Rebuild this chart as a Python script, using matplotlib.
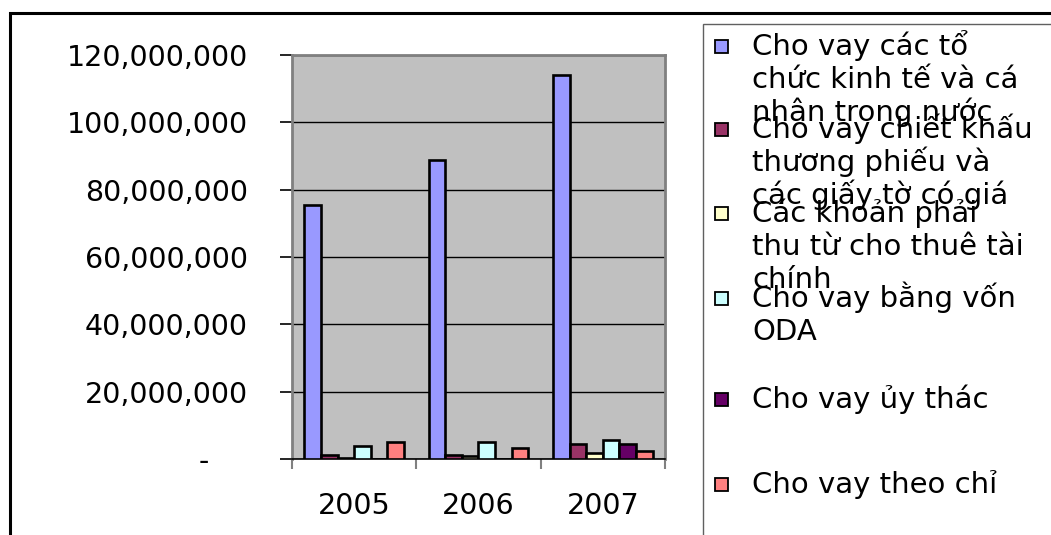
import matplotlib
matplotlib.use('Agg')
import matplotlib.pyplot as plt
import numpy as np
from matplotlib.patches import Rectangle
from matplotlib.transforms import ScaledTranslation
from matplotlib.ticker import FuncFormatter

W, H = 1051, 535

years = ['2005', '2006', '2007']
series_names = [
    'Cho vay các tổ\nchức kinh tế và cá\nnhân trong nước',
    'Cho vay chiết khấu\nthương phiếu và\ncác giấy tờ có giá',
    'Các khoản phải\nthu từ cho thuê tài\nchính',
    'Cho vay bằng vốn\nODA',
    'Cho vay ủy thác',
    'Cho vay theo chỉ',
]
to_chuc_ca_nhan = [75.4e6, 88.8e6, 114.0e6]
chiet_khau = [1.2e6, 1.2e6, 4.45e6]
thue_tai_chinh = [0.3e6, 0.9e6, 1.7e6]
von_oda = [3.95e6, 5.05e6, 5.55e6]
uy_thac = [0, 0, 4.45e6]
chi_dinh = [5.05e6, 3.3e6, 2.3e6]
series = [to_chuc_ca_nhan, chiet_khau, thue_tai_chinh, von_oda, uy_thac, chi_dinh]
colors = ['#9999FF', '#993366', '#FFFFCC', '#CCFFFF', '#660066', '#FF8080']

yticks = [0, 20e6, 40e6, 60e6, 80e6, 100e6, 120e6]


def px(x, y):
    # pixel position (from top-left) -> figure fraction
    return x / W, 1 - y / H


fig = plt.figure(figsize=(W / 100, H / 100), dpi=100)
left, top = px(292, 55)
right, bottom = px(665, 459)
ax = fig.add_axes([left, bottom, right - left, top - bottom])
ax.set_facecolor('#C0C0C0')

n = len(series)
w = 1 / (n + 1.5)
x = np.arange(len(years))
for j, (vals, c) in enumerate(zip(series, colors)):
    pos = x - 0.5 + 0.75 * w + (j + 0.5) * w
    ax.bar(pos, vals, width=w, color=c, edgecolor='black', linewidth=1.9, zorder=3)

ax.set_xlim(-0.5, len(years) - 0.5)
ax.set_ylim(0, 120e6)
ax.set_yticks(yticks)
ax.yaxis.set_major_formatter(FuncFormatter(lambda v, p: '-' if v == 0 else f'{int(v):,}'))
ax.grid(axis='y', color='black', linewidth=1)
ax.set_axisbelow(True)

ax.set_xticks(x)
ax.set_xticklabels(years)
ax.set_xticks(np.arange(len(years) + 1) - 0.5, minor=True)
ax.tick_params(axis='x', which='major', length=0, pad=24, labelsize=20.5)
ax.tick_params(axis='x', which='minor', length=7.5, width=1.5, color='#808080', direction='out')
ax.tick_params(axis='y', length=8.6, width=1.2, color='black', pad=23, labelsize=20.5)

for s in ['left', 'right', 'top']:
    ax.spines[s].set_color('#808080')
    ax.spines[s].set_linewidth(2)
ax.spines['bottom'].set_color('black')
ax.spines['bottom'].set_linewidth(1.2)

# dash for zero sits further left, like accounting format
for lab in ax.get_yticklabels():
    if lab.get_text() == '-':
        lab.set_transform(lab.get_transform() + ScaledTranslation(-0.39, 0, fig.dpi_scale_trans))

# outer chart frame
fx, fy = px(10, 13)
fig.add_artist(Rectangle((fx, -0.1), 1.2, fy + 0.1, transform=fig.transFigure,
                         fill=False, edgecolor='black', linewidth=2.2))

# legend box
lx, ly = px(703, 24)
fig.add_artist(Rectangle((lx, -0.1), 1.0, ly + 0.1, transform=fig.transFigure,
                         fill=False, edgecolor='#606060', linewidth=1))

baselines = [55, 138, 222, 307, 408, 493]
line_h = 33
for name, c, b in zip(series_names, colors, baselines):
    sx, sy = px(715, b - 2)
    fig.add_artist(Rectangle((sx, sy), 13 / W, 13 / H, transform=fig.transFigure,
                             facecolor=c, edgecolor='black', linewidth=1.3))
    for k, line in enumerate(name.split('\n')):
        tx, ty = px(752, b + k * line_h)
        fig.text(tx, ty, line, fontsize=21, va='baseline', ha='left')

fig.savefig('out.png', dpi=100)
